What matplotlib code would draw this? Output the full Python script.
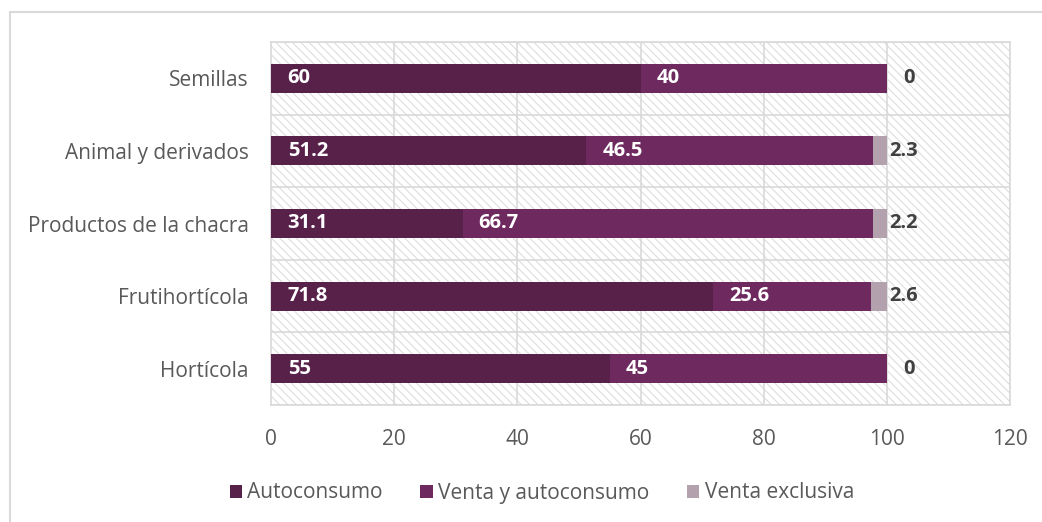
import matplotlib
matplotlib.use("Agg")
import matplotlib.pyplot as plt
from matplotlib.patches import Rectangle
import numpy as np

categories = ["Hortícola", "Frutihortícola", "Productos de la chacra", "Animal y derivados", "Semillas"]
autoconsumo = [55, 71.8, 31.1, 51.2, 60]
venta_auto = [45, 25.6, 66.7, 46.5, 40]
venta_excl = [0, 2.6, 2.2, 2.3, 0]
series_names = ["Autoconsumo", "Venta y autoconsumo", "Venta exclusiva"]
colors = ["#58214A", "#6E2A5F", "#B3A1AD"]
xticks = [0, 20, 40, 60, 80, 100, 120]

plt.rcParams['font.family'] = ['Open Sans', 'DejaVu Sans']
plt.rcParams['hatch.linewidth'] = 0.7

fig = plt.figure(figsize=(10.42, 5.22), dpi=100)
# outer chart frame
fig.patches.append(Rectangle((10/1042, -0.1), 1.2, (522-12)/522 + 0.1, transform=fig.transFigure,
                             fill=False, edgecolor="#d9d9d9", linewidth=1.5))
ax = fig.add_axes([271/1042, (522-405)/522, (1010-271)/1042, (405-42)/522])

# hatched background
ax.add_patch(Rectangle((0, 0), 1, 1, transform=ax.transAxes, facecolor="white",
                       edgecolor="#d9d9d9", hatch="\\\\\\\\", linewidth=0, zorder=0))

y = np.arange(len(categories))
h = 0.4
ax.barh(y, autoconsumo, height=h, color=colors[0], label=series_names[0], zorder=3)
ax.barh(y, venta_auto, left=autoconsumo, height=h, color=colors[1], label=series_names[1], zorder=3)
left2 = np.array(autoconsumo) + np.array(venta_auto)
ax.barh(y, venta_excl, left=left2, height=h, color=colors[2], label=series_names[2], zorder=3)

lab_fs = 14.5
for i in range(len(categories)):
    ax.annotate(f"{autoconsumo[i]:g}", (0, y[i]), xytext=(12, 0), textcoords="offset points",
                ha="left", va="center", color="white", fontweight="bold", fontsize=lab_fs, zorder=5)
    ax.annotate(f"{venta_auto[i]:g}", (autoconsumo[i], y[i]), xytext=(11.5, 0), textcoords="offset points",
                ha="left", va="center", color="white", fontweight="bold", fontsize=lab_fs, zorder=5)
    if venta_excl[i] > 0:
        ax.annotate(f"{venta_excl[i]:g}", (left2[i] + venta_excl[i], y[i]), xytext=(2, 0),
                    textcoords="offset points", ha="left", va="center", color="#404040",
                    fontweight="bold", fontsize=lab_fs, zorder=5)
    else:
        ax.annotate(f"{venta_excl[i]:g}", (left2[i], y[i]), xytext=(11.5, 0),
                    textcoords="offset points", ha="left", va="center", color="#404040",
                    fontweight="bold", fontsize=lab_fs, zorder=5)

ax.set_xlim(0, 120)
ax.set_ylim(-0.5, len(categories) - 0.5)
ax.set_xticks(xticks)
ax.set_yticks(y)
ax.set_yticklabels(categories)
for v in xticks[1:]:
    ax.axvline(v, color="#d9d9d9", linewidth=1.2, zorder=1)
for b in np.arange(-0.5, len(categories), 1.0):
    ax.axhline(b, color="#d9d9d9", linewidth=1.2, zorder=1)
for s in ax.spines.values():
    s.set_color("#d9d9d9")
    s.set_linewidth(1.2)
ax.tick_params(axis="both", length=0, labelsize=15, colors="#595959")
ax.tick_params(axis="y", pad=16)
ax.tick_params(axis="x", pad=17)

leg = fig.legend(loc="center", bbox_to_anchor=(0.52, (522-493)/522), ncol=3, frameon=False,
                 fontsize=15, handlelength=0.6, handleheight=0.6, handletextpad=0.25,
                 columnspacing=1.8, labelcolor="#595959")

fig.savefig("out.png", dpi=100)
